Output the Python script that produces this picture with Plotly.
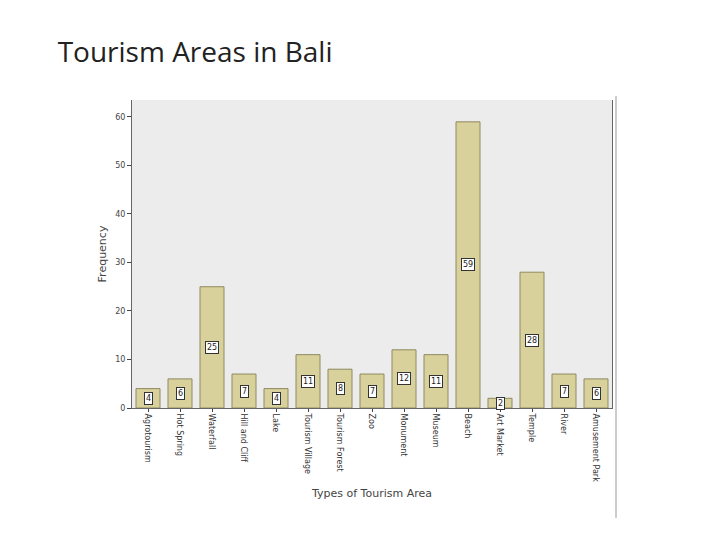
import plotly.graph_objects as go

areas = ["Agrotourism", "Hot Spring", "Waterfall", "Hill and Cliff", "Lake",
         "Tourism Village", "Tourism Forest", "Zoo", "Monument", "Museum",
         "Beach", "Art Market", "Temple", "River", "Amusement Park"]
freq = [4, 6, 25, 7, 4, 11, 8, 7, 12, 11, 59, 2, 28, 7, 6]

fig = go.Figure(go.Bar(
    x=areas, y=freq,
    marker=dict(color="#d8d19c", line=dict(color="#8f8a5e", width=1)),
    width=0.75, hoverinfo="x+y",
))

for a, v in zip(areas, freq):
    fig.add_annotation(x=a, y=max(v / 2, 0.4), text=str(v), showarrow=False,
                       font=dict(family="DejaVu Sans", size=8, color="#222"),
                       bgcolor="white", bordercolor="#333", borderwidth=1, borderpad=1)

fig.update_layout(
    width=720, height=540,
    paper_bgcolor="white", plot_bgcolor="#ececec",
    margin=dict(l=0, r=0, t=0, b=0, autoexpand=False),
    showlegend=False,
    title=dict(text="Tourism Areas in Bali", x=0.069, xanchor="left", y=0.918,
               yanchor="middle", font=dict(family="Open Sans", size=28, color="#222")),
    xaxis=dict(domain=[124 / 720, 604 / 720], tickangle=90, showgrid=False,
               automargin=False,
               tickfont=dict(family="DejaVu Sans", size=8, color="#333"),
               title=dict(text="Types of Tourism Area", standoff=8,
                          font=dict(family="DejaVu Sans", size=11, color="#444")),
               showline=True, linecolor="#666", ticks="outside", ticklen=3),
    yaxis=dict(domain=[140 / 540, 448 / 540], range=[0, 63.5], dtick=10,
               automargin=False,
               tickfont=dict(family="DejaVu Sans", size=8, color="#444"),
               title=dict(text="Frequency", standoff=6,
                          font=dict(family="DejaVu Sans", size=11, color="#444")),
               showgrid=False, showline=True, linecolor="#666", ticks="outside",
               ticklen=4, zeroline=False, mirror=True),
)
fig.add_shape(type="line", xref="paper", yref="paper", x0=608 / 720, x1=608 / 720,
              y0=30 / 540, y1=452 / 540, line=dict(color="#999", width=1))

fig.write_html("out.html")
